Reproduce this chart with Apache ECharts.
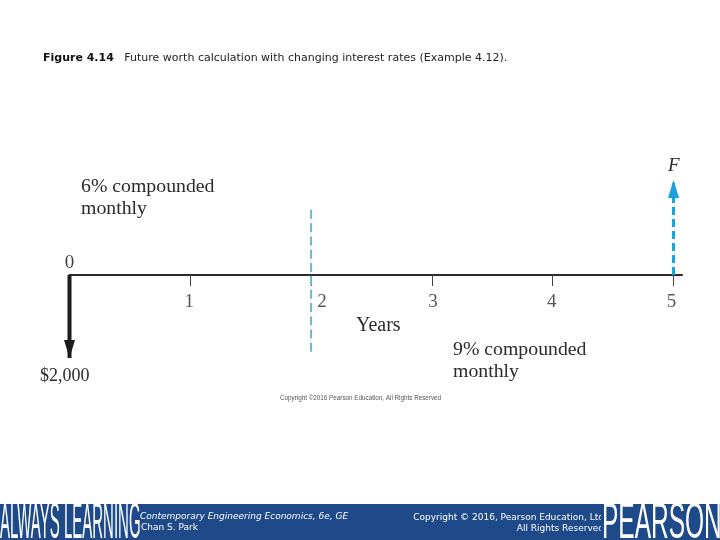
<!DOCTYPE html>
<html>
<head>
<meta charset="utf-8">
<style>html,body{margin:0;padding:0;background:#fff}#c{width:720px;height:540px}</style>
<script src="https://cdn.jsdelivr.net/npm/echarts@6/dist/echarts.min.js"></script>
</head>
<body>
<div id="c"></div>
<script>
const years = [0, 1, 2, 3, 4, 5];
const tickYears = [1, 2, 3, 4, 5];
const payment = [[0, 0], [0, -2000]];
const futureWorth = [[5, 0], [5, 2290]];
const rateChange = [[2, 1570], [2, -1860]];
const originLabel = [[0, 0]];
const paymentLabel = '$2,000';
const futureLabel = 'F';
const axisName = 'Years';
const rateBefore = ['6% compounded', 'monthly'];
const rateAfter = ['9% compounded', 'monthly'];

const serif = '"Liberation Serif", serif';
const sans = '"DejaVu Sans", sans-serif';
const band = '#1f4a8a';
const ink = '#2b2b2b';

function label(text, left, top, size, extra) {
  return { type: 'text', left, top, silent: true, style: Object.assign({
    text, fill: ink, font: size + 'px ' + serif }, extra || {}) };
}

const tickLabelOffset = { 1: -1, 2: 11, 3: 1, 4: -1, 5: -2 };

const option = {
  backgroundColor: '#fff',
  animation: false,
  title: {
    left: 43, top: 53, padding: 0,
    text: '{b|Figure 4.14}{r|   Future worth calculation with changing interest rates (Example 4.12).}',
    textStyle: { fontWeight: 'normal', rich: {
      b: { fontFamily: sans, fontWeight: 'bold', fontSize: 11, color: '#111' },
      r: { fontFamily: sans, fontWeight: 'normal', fontSize: 11, color: '#222' }
    } }
  },
  grid: { left: 69.5, right: 38, top: 150.5, height: 228.25 },
  xAxis: {
    type: 'value', min: 0, max: 5.07, interval: 1,
    position: 'bottom',
    splitLine: { show: false },
    axisLine: { show: true, onZero: true, lineStyle: { color: ink, width: 2 } },
    axisTick: { show: true, customValues: tickYears, inside: false, length: 11, lineStyle: { color: '#444', width: 1 } },
    axisLabel: { show: false }
  },
  yAxis: { type: 'value', min: -2500, max: 3000, show: false, splitLine: { show: false } },
  series: [
    { type: 'line', data: rateChange, symbol: 'none', silent: true,
      lineStyle: { color: '#6db6c9', width: 2, type: [9, 4.3] } },
    { type: 'line', data: payment, symbol: 'none', silent: true,
      lineStyle: { color: '#1c1c1c', width: 4 } },
    { type: 'line', data: futureWorth, symbol: 'none', silent: true,
      lineStyle: { color: '#1aa0dc', width: 3, type: [8, 4] } },
    { type: 'scatter', data: [payment[1]], symbol: 'triangle', symbolSize: [11, 18], symbolRotate: 180,
      symbolOffset: [0, -9], silent: true, itemStyle: { color: '#1c1c1c', opacity: 1 } },
    { type: 'scatter', data: [futureWorth[1]], symbol: 'triangle', symbolSize: [11, 18],
      symbolOffset: [0, 9], silent: true, itemStyle: { color: '#1aa0dc', opacity: 1 } },
    { type: 'scatter', data: originLabel, symbolSize: 0, silent: true,
      label: { show: true, position: 'top', distance: 2, formatter: String(years[0]),
        fontFamily: serif, fontSize: 19, color: '#111' } },
    { type: 'scatter', symbolSize: 0, silent: true,
      data: tickYears.map(v => ({ value: [v, 0],
        label: { show: true, position: 'bottom', distance: 18, offset: [tickLabelOffset[v], 0],
          formatter: String(v), fontFamily: serif, fontSize: 19, color: ink } })) }
  ],
  graphic: { elements: [
    label(rateBefore[0], 81, 177, 19.8),
    label(rateBefore[1], 81, 199, 19.8),
    label(rateAfter[0], 453, 340, 19.8),
    label(rateAfter[1], 453, 362, 19.8),
    label(axisName, 356, 316, 20),
    label(paymentLabel, 40, 367, 18),
    label(futureLabel, 668, 156, 19, { font: 'italic 19px ' + serif }),
    { type: 'text', left: 280, top: 395, silent: true, style: {
      text: 'Copyright \u00a92016 Pearson Education, All Rights Reserved',
      font: '6.3px "Liberation Sans", sans-serif', fill: '#555' } },

    { type: 'rect', silent: true, shape: { x: 0, y: 504, width: 720, height: 36 }, style: { fill: band } },
    { type: 'text', silent: true, x: 140, y: 512, style: {
      text: 'Contemporary Engineering Economics, 6e, GE',
      font: 'italic 9px ' + sans, fill: '#fff' } },
    { type: 'text', silent: true, x: 141, y: 523, style: {
      text: 'Chan S. Park', font: '9px ' + sans, fill: '#fff' } },
    { type: 'text', silent: true, x: 604, y: 513, style: {
      text: 'Copyright \u00a9 2016, Pearson Education, Ltd', align: 'right',
      font: '9px ' + sans, fill: '#fff' } },
    { type: 'text', silent: true, x: 604, y: 524, style: {
      text: 'All Rights Reserved', align: 'right',
      font: '9px ' + sans, fill: '#fff' } },

    { type: 'rect', silent: true, shape: { x: 601, y: 504, width: 119, height: 36 }, style: { fill: band } },
    { type: 'text', silent: true, x: 0, y: 499, scaleX: 0.3, style: {
      text: 'ALWAYS LEARNING', font: '50px "Liberation Sans", sans-serif', fill: '#fff' } },
    { type: 'text', silent: true, x: 602, y: 499, scaleX: 0.49, style: {
      text: 'PEARSON', font: '50px "Liberation Sans", sans-serif', fill: '#fff' } }
  ] }
};

const chart = echarts.init(document.getElementById('c'), null, { renderer: 'canvas' });
chart.setOption(option);
</script>
</body>
</html>
